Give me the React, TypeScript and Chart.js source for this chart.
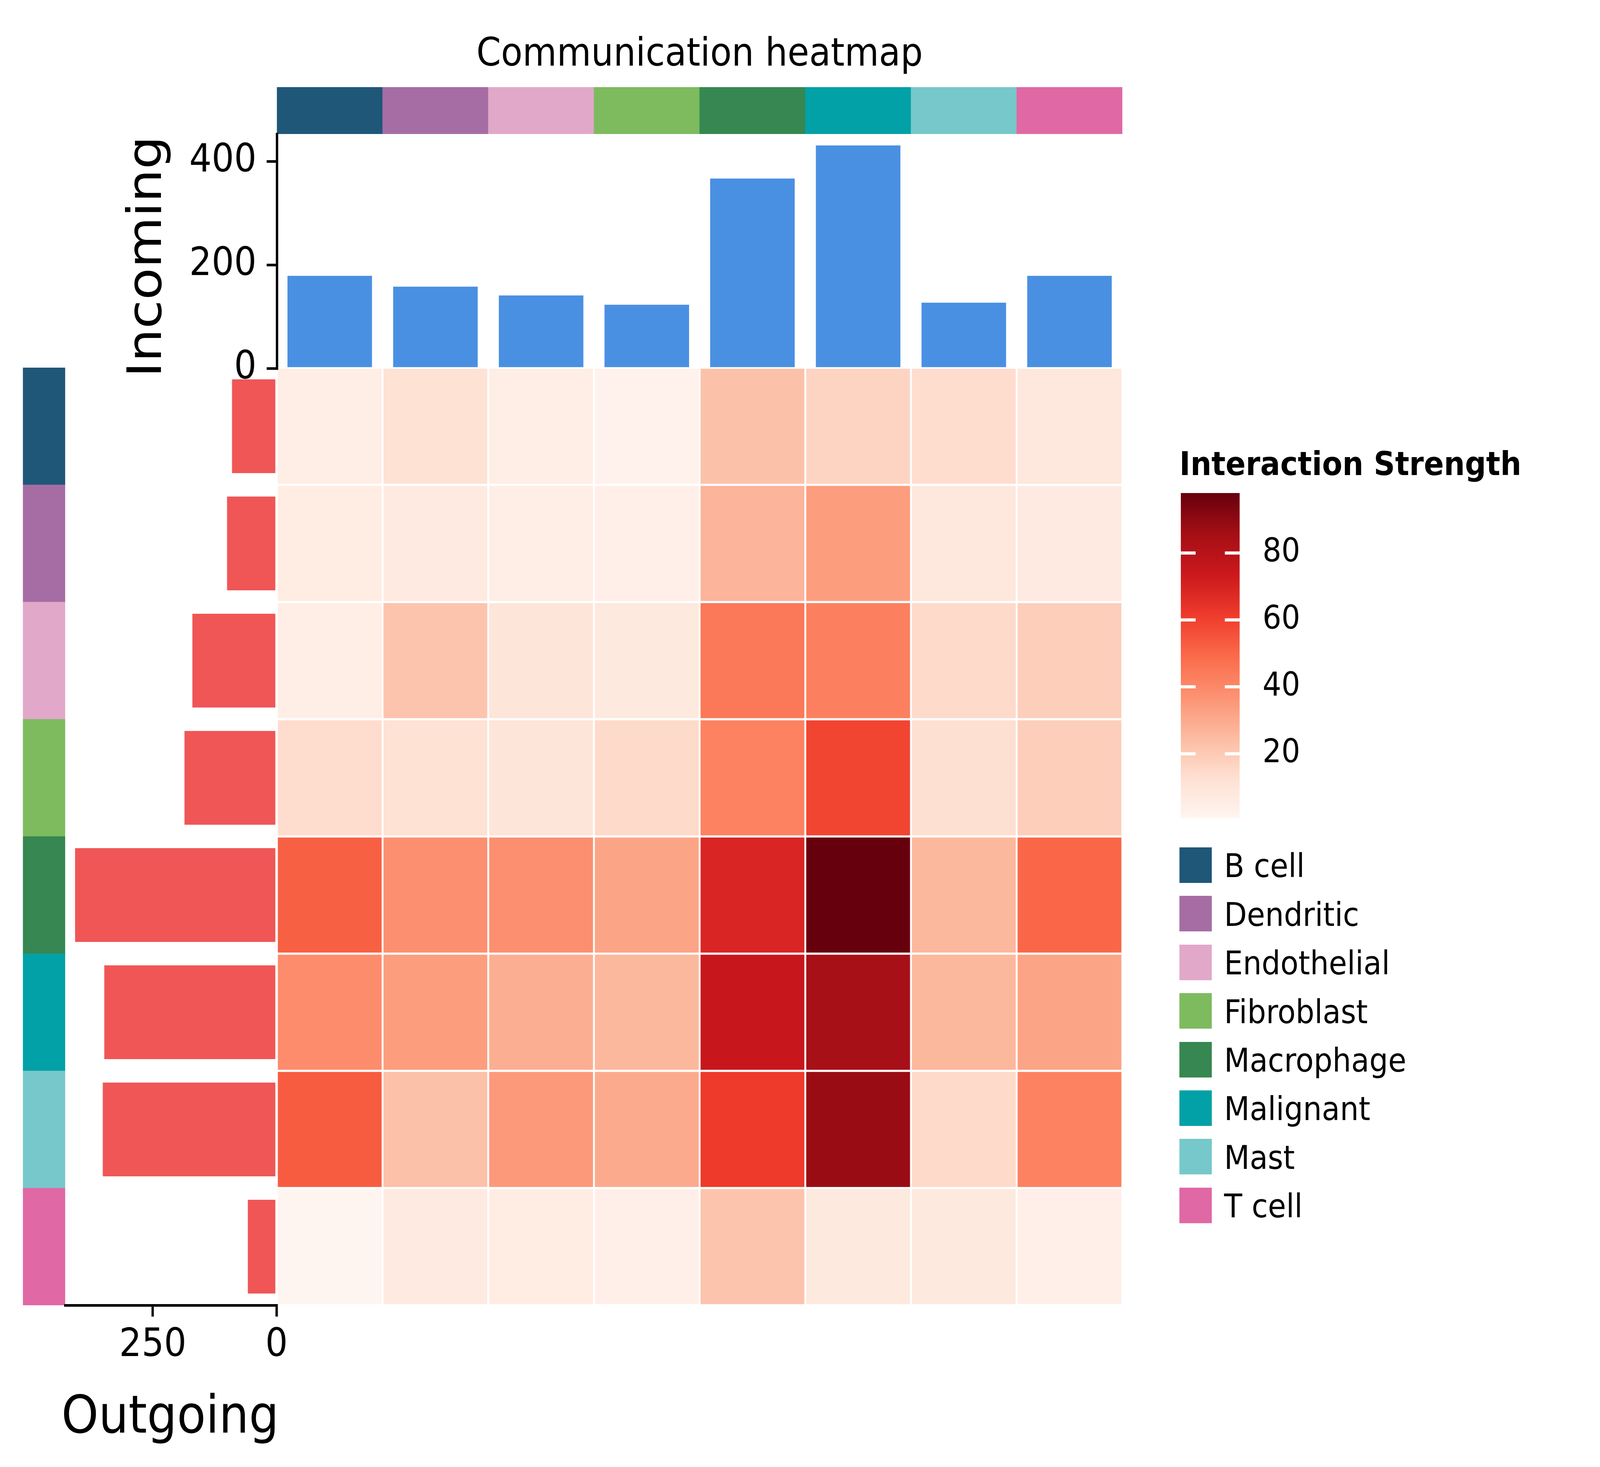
import React, { useEffect, useRef } from "react";
import { Chart, registerables } from "chart.js";

Chart.register(...registerables);
Chart.defaults.font.family = "'DejaVu Sans', sans-serif";
Chart.defaults.color = "#000";

// ---------- data ----------
const cellTypes = ["B cell", "Dendritic", "Endothelial", "Fibroblast", "Macrophage", "Malignant", "Mast", "T cell"];
const cellColors = ["#1f5779", "#a66da5", "#e1a8c9", "#7ebb5f", "#368751", "#02a1a7", "#77c8ca", "#e068a5"];
const incomingStrength = [179, 158, 141, 123, 367, 431, 127, 179];
const outgoingStrength = [90, 100, 170, 186, 407, 348, 351, 58];

// interaction strength, sender (row) -> receiver (column)
const fromBCell = [5, 12, 5, 3, 23, 17, 14, 9];
const fromDendritic = [6, 7, 5, 4, 27, 34, 9, 7];
const fromEndothelial = [5, 22, 10, 8, 45, 43, 15, 19];
const fromFibroblast = [14, 12, 10, 15, 42, 59, 13, 19];
const fromMacrophage = [52, 38, 38, 32, 69, 97.9, 26, 50];
const fromMalignant = [39, 34, 29, 26, 75, 85, 26, 32];
const fromMast = [53, 23, 35, 30, 62, 88, 15, 42];
const fromTCell = [0.8, 7, 6, 4, 22, 8, 8, 4];
const strengthRows = [fromBCell, fromDendritic, fromEndothelial, fromFibroblast, fromMacrophage, fromMalignant, fromMast, fromTCell];

const incomingTicks = [0, 200, 400];
const outgoingTicks = [0, 250];
const colorbarTicks = [20, 40, 60, 80];

// ---------- colormap (matplotlib Reds) ----------
const redsStops: number[][] = [
  [255, 245, 240], [254, 224, 210], [252, 187, 161], [252, 146, 114], [251, 106, 74],
  [239, 59, 44], [203, 24, 29], [165, 15, 21], [103, 0, 13],
];
const allValues = strengthRows.flat();
const vMin = Math.min(...allValues);
const vMax = Math.max(...allValues);

function redsColor(v: number): string {
  let f = (v - vMin) / (vMax - vMin);
  f = Math.max(0, Math.min(1, f));
  const pos = f * (redsStops.length - 1);
  const i = Math.min(Math.floor(pos), redsStops.length - 2);
  const t = pos - i;
  const a = redsStops[i], b = redsStops[i + 1];
  const c = a.map((x, k) => Math.round(x + (b[k] - x) * t));
  return `rgb(${c[0]},${c[1]},${c[2]})`;
}

const FONT = "'DejaVu Sans', sans-serif";
const DESIGN_W = 4542;
const DESIGN_H = 3755;
const TICK_FONT = 100;
const AXIS_LW = 6.7;
const baseOpts = {
  animation: false as const,
  responsive: false,
  devicePixelRatio: 1,
  events: [] as any[],
};
const noPlugins = { legend: { display: false }, tooltip: { enabled: false }, title: { display: false } };

function ChartCanvas({ left, top, width, height, make }: { left: number; top: number; width: number; height: number; make: () => any }) {
  const ref = useRef<HTMLCanvasElement | null>(null);
  useEffect(() => {
    const chart = new Chart(ref.current as HTMLCanvasElement, make());
    return () => chart.destroy();
  }, []);
  return (
    <canvas
      ref={ref}
      width={width}
      height={height}
      style={{ position: "absolute", left, top, width, height }}
    />
  );
}

// ---------- chart configs ----------
const topStripConfig = () => ({
  type: "bar",
  data: {
    labels: cellTypes,
    datasets: [{ data: cellTypes.map(() => 1), backgroundColor: cellColors, barPercentage: 1, categoryPercentage: 1, borderWidth: 0 }],
  },
  options: {
    ...baseOpts,
    layout: { padding: 0 },
    plugins: noPlugins,
    scales: { x: { display: false }, y: { display: false, min: 0, max: 1 } },
  },
});

const leftStripConfig = () => ({
  type: "bar",
  data: {
    labels: cellTypes,
    datasets: [{ data: cellTypes.map(() => 1), backgroundColor: cellColors, barPercentage: 1, categoryPercentage: 1, borderWidth: 0 }],
  },
  options: {
    ...baseOpts,
    indexAxis: "y",
    layout: { padding: 0 },
    plugins: noPlugins,
    scales: { y: { display: false }, x: { display: false, min: 0, max: 1 } },
  },
});

const incomingConfig = () => ({
  type: "bar",
  data: {
    labels: cellTypes,
    datasets: [{ data: incomingStrength, backgroundColor: "#4a90e2", barPercentage: 0.8, categoryPercentage: 1, borderWidth: 0 }],
  },
  options: {
    ...baseOpts,
    layout: { padding: { left: 0, right: 20, top: 150, bottom: 150 } },
    plugins: noPlugins,
    scales: {
      x: { display: false },
      y: {
        min: 0,
        max: 453,
        afterBuildTicks: (s: any) => { s.ticks = incomingTicks.map((v) => ({ value: v })); },
        afterFit: (s: any) => { s.width = 286; },
        ticks: { font: { size: TICK_FONT, family: FONT }, color: "#000", padding: 29 },
        grid: { display: true, drawOnChartArea: false, drawTicks: true, tickLength: 29, color: "#000", lineWidth: AXIS_LW },
        border: { display: true, color: "#000", width: AXIS_LW },
      },
    },
  },
});

const outgoingConfig = () => ({
  type: "bar",
  data: {
    labels: cellTypes,
    datasets: [{ data: outgoingStrength, backgroundColor: "#f05656", barPercentage: 0.8, categoryPercentage: 1, borderWidth: 0 }],
  },
  options: {
    ...baseOpts,
    indexAxis: "y",
    layout: { padding: { left: 100, right: 100, top: 0, bottom: 0 } },
    plugins: noPlugins,
    scales: {
      y: { display: false },
      x: {
        reverse: true,
        min: 0,
        max: 427,
        afterBuildTicks: (s: any) => { s.ticks = outgoingTicks.map((v) => ({ value: v })); },
        afterFit: (s: any) => { s.height = 200; },
        ticks: { font: { size: TICK_FONT, family: FONT }, color: "#000", padding: 15, maxRotation: 0 },
        grid: { display: true, drawOnChartArea: false, drawTicks: true, tickLength: 29, color: "#000", lineWidth: AXIS_LW },
        border: { display: true, color: "#000", width: AXIS_LW },
      },
    },
  },
});

const heatmapConfig = () => ({
  type: "bar",
  data: {
    labels: cellTypes,
    datasets: strengthRows.map((row, i) => ({
      label: cellTypes[i],
      data: row.map(() => 1),
      backgroundColor: row.map((v) => redsColor(v)),
      borderColor: "#ffffff",
      borderWidth: 3,
      borderSkipped: false,
      barPercentage: 1,
      categoryPercentage: 1,
    })),
  },
  options: {
    ...baseOpts,
    layout: { padding: 0 },
    plugins: noPlugins,
    scales: {
      x: { display: false, stacked: true },
      y: { display: false, stacked: true, min: 0, max: strengthRows.length, reverse: true },
    },
  },
});

const innerTicksPlugin = {
  id: "innerTicks",
  afterDatasetsDraw(chart: any) {
    const { ctx, chartArea, scales } = chart;
    ctx.save();
    ctx.strokeStyle = "#ffffff";
    ctx.lineWidth = 8;
    colorbarTicks.forEach((v) => {
      const y = scales.y.getPixelForValue(v);
      ctx.beginPath();
      ctx.moveTo(chartArea.left, y);
      ctx.lineTo(chartArea.left + 42, y);
      ctx.moveTo(chartArea.right - 42, y);
      ctx.lineTo(chartArea.right, y);
      ctx.stroke();
    });
    ctx.restore();
  },
};

const colorbarConfig = () => ({
  type: "bar",
  data: {
    labels: ["Interaction Strength"],
    datasets: [{
      data: [[vMin, vMax]],
      backgroundColor: (c: any) => {
        const chart = c.chart;
        const { chartArea, scales } = chart;
        if (!chartArea || !scales.y) return "#fcbba1";
        const y0 = scales.y.getPixelForValue(vMin);
        const y1 = scales.y.getPixelForValue(vMax);
        const g = chart.ctx.createLinearGradient(0, y0, 0, y1);
        redsStops.forEach((s, i) => g.addColorStop(i / (redsStops.length - 1), `rgb(${s[0]},${s[1]},${s[2]})`));
        return g;
      },
      barPercentage: 1,
      categoryPercentage: 1,
      borderWidth: 0,
    }],
  },
  options: {
    ...baseOpts,
    layout: { padding: { left: 20, right: 0, top: 150, bottom: 150 } },
    plugins: noPlugins,
    scales: {
      x: { display: false },
      y: {
        position: "right",
        min: vMin,
        max: vMax,
        afterBuildTicks: (s: any) => { s.ticks = colorbarTicks.map((v) => ({ value: v })); },
        afterFit: (s: any) => { s.width = 300; },
        ticks: { font: { size: 84, family: FONT }, color: "#000", padding: 65 },
        grid: { display: false, drawTicks: false },
        border: { display: false },
      },
    },
  },
  plugins: [innerTicksPlugin],
});

// ---------- text helper ----------
function Label({ text, x, baseline, size, bold, align }: { text: string; x: number; baseline: number; size: number; bold?: boolean; align?: "left" | "center" }) {
  return (
    <div
      style={{
        position: "absolute",
        left: x,
        top: baseline - 0.846 * size,
        fontFamily: FONT,
        fontSize: size,
        lineHeight: `${size}px`,
        fontWeight: bold ? "bold" : "normal",
        whiteSpace: "nowrap",
        color: "#000",
        transform: align === "center" ? "translateX(-50%)" : undefined,
      }}
    >
      {text}
    </div>
  );
}

export default function App() {
  // The browser viewport may be narrower than the design width; fit the figure to it.
  const vw = typeof window !== "undefined" ? window.innerWidth : DESIGN_W;
  const sx = Math.min(1, vw / DESIGN_W);
  return (
    <div
      style={{
        position: "absolute",
        left: 0,
        top: 0,
        width: DESIGN_W,
        height: DESIGN_H,
        background: "#fff",
        overflow: "hidden",
        fontFamily: FONT,
        transform: `scale(${sx}, 1)`,
        transformOrigin: "0 0",
      }}
    >
      <Label text="Communication heatmap" x={1986} baseline={169} size={100} align="center" />
      <div
        style={{
          position: "absolute",
          left: 411,
          top: 657,
          fontFamily: FONT,
          fontSize: 134,
          lineHeight: "134px",
          whiteSpace: "nowrap",
          transform: "translate(-50%, -50%) rotate(-90deg)",
        }}
      >
        Incoming
      </div>
      <Label text="Outgoing" x={483} baseline={3667} size={134} align="center" />

      <ChartCanvas left={786} top={941} width={2400} height={2400} make={heatmapConfig} />
      <ChartCanvas left={786} top={223} width={2400} height={120} make={topStripConfig} />
      <ChartCanvas left={65} top={941} width={120} height={2400} make={leftStripConfig} />
      <ChartCanvas left={500} top={193} width={2706} height={900} make={incomingConfig} />
      <ChartCanvas left={85} top={941} width={800} height={2600} make={outgoingConfig} />
      <ChartCanvas left={3332} top={1112} width={487} height={1132} make={colorbarConfig} />

      <Label text="Interaction Strength" x={3348} baseline={1216} size={84} bold />
      {cellTypes.map((name, i) => {
        const top = 2169 + i * 124.4;
        return (
          <React.Fragment key={name}>
            <div style={{ position: "absolute", left: 3348, top, width: 92, height: 91, background: cellColors[i] }} />
            <Label text={name} x={3475} baseline={top + 45.5 + 31} size={84} />
          </React.Fragment>
        );
      })}
    </div>
  );
}
